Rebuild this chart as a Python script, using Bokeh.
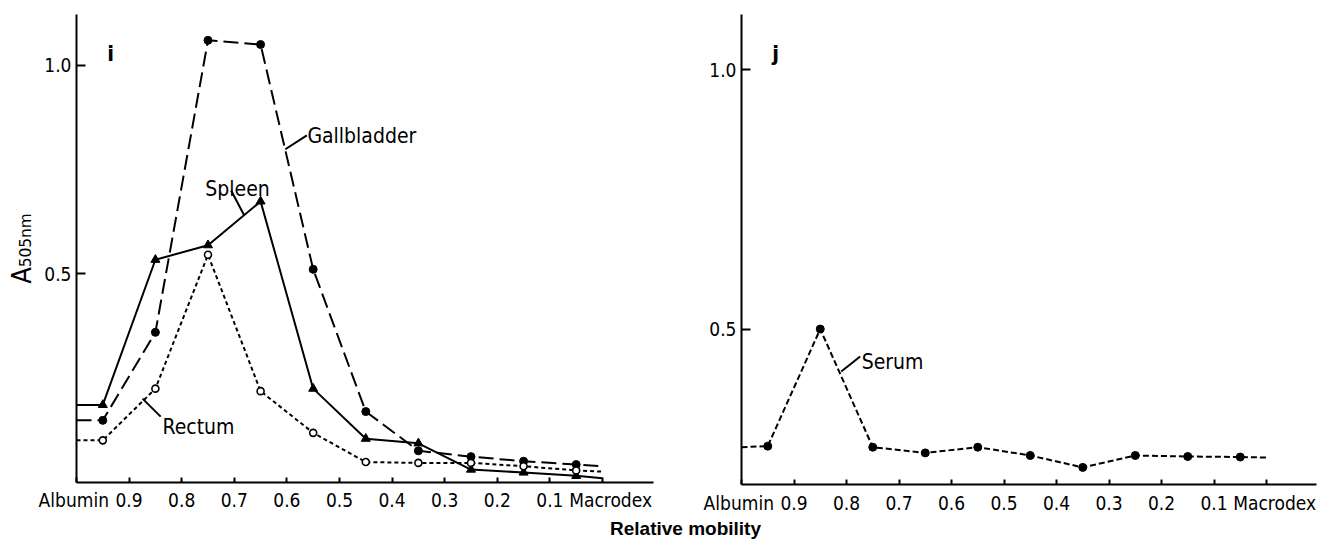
from bokeh.plotting import figure
from bokeh.layouts import row, column
from bokeh.models import Range1d, FixedTicker
from bokeh.core.properties import value
from bokeh.embed import file_html
from bokeh.resources import INLINE

# ---------------- data ----------------
tick_positions = [1.0, 0.9, 0.8, 0.7, 0.6, 0.5, 0.4, 0.3, 0.2, 0.1, 0.0]
tick_labels = ["Albumin\u00a0", "0.9", "0.8", "0.7", "0.6", "0.5", "0.4", "0.3", "0.2", "0.1",
               "\u00a0\u00a0\u00a0Macrodex"]
y_ticks = [0.5, 1.0]
y_tick_labels = ["0.5", "1.0"]

fraction_mobility = [0.95, 0.85, 0.75, 0.65, 0.55, 0.45, 0.35, 0.25, 0.15, 0.05]
line_start_x = 1.0   # traces start at the albumin (y) axis
line_end_x = 0.0     # and end at the Macrodex tick

gallbladder = [0.149, 0.360, 1.060, 1.050, 0.511, 0.170, 0.076, 0.062, 0.051, 0.043]
spleen      = [0.186, 0.534, 0.569, 0.674, 0.225, 0.105, 0.094, 0.031, 0.024, 0.016]
rectum      = [0.101, 0.225, 0.546, 0.219, 0.119, 0.049, 0.047, 0.047, 0.039, 0.029]
serum       = [0.274, 0.500, 0.272, 0.261, 0.272, 0.256, 0.233, 0.256, 0.254, 0.253]

# values of each trace at its start (albumin axis) and end (Macrodex tick)
gallbladder_ends = [0.149, 0.039]
spleen_ends      = [0.186, 0.010]
rectum_ends      = [0.101, 0.026]
serum_ends       = [0.272, 0.252]

FONT = "DejaVu Sans Condensed"
LABEL_SIZE = "19px"


def trace(vals, ends):
    xs = [line_start_x] + fraction_mobility + [line_end_x]
    ys = [ends[0]] + vals + [ends[1]]
    return xs, ys


def style(p, bottom_standoff):
    p.xgrid.visible = False
    p.ygrid.visible = False
    p.outline_line_color = None
    p.background_fill_color = "white"
    p.border_fill_color = "white"
    xa = p.xaxis[0]
    xa.ticker = FixedTicker(ticks=tick_positions)
    xa.major_label_overrides = dict(zip(tick_positions, tick_labels))
    xa.major_tick_in = 5
    xa.major_tick_out = 0
    xa.minor_tick_line_color = None
    xa.axis_line_width = 2
    xa.major_tick_line_width = 2
    xa.major_label_text_font = FONT
    xa.major_label_text_font_size = LABEL_SIZE
    xa.major_label_text_color = "black"
    xa.major_label_standoff = bottom_standoff
    ya = p.yaxis[0]
    ya.ticker = FixedTicker(ticks=y_ticks)
    ya.major_label_overrides = dict(zip(y_ticks, y_tick_labels))
    ya.major_tick_in = 9
    ya.major_tick_out = 0
    ya.minor_tick_line_color = None
    ya.axis_line_width = 2
    ya.major_tick_line_width = 2
    ya.major_label_text_font = FONT
    ya.major_label_text_font_size = LABEL_SIZE
    ya.major_label_text_color = "black"
    ya.major_label_standoff = 5


# ---------------- left panel (i) ----------------
p1 = figure(frame_width=577, frame_height=468,
            x_range=Range1d(1.0, -0.097), y_range=Range1d(0.0, 1.122),
            output_backend="svg", toolbar_location=None,
            min_border_left=76, min_border_right=8, min_border_top=14, min_border_bottom=31)
style(p1, 6)
ya1 = p1.yaxis[0]
ya1.axis_label = "A\u2085\u2080\u2085\u2099\u2098"
ya1.axis_label_text_font = FONT
ya1.axis_label_text_font_style = "normal"
ya1.axis_label_text_font_size = "27px"
ya1.axis_label_text_color = "black"
ya1.axis_label_standoff = 4

gx, gy = trace(gallbladder, gallbladder_ends)
p1.line(gx, gy, line_color="black", line_width=2, line_dash="15 6")
p1.scatter(fraction_mobility, gallbladder, marker="circle", size=8,
           fill_color="black", line_color="black")

sx, sy = trace(spleen, spleen_ends)
p1.line(sx, sy, line_color="black", line_width=2)
p1.scatter(fraction_mobility, spleen, marker="triangle", size=9,
           fill_color="black", line_color="black")

rx, ry = trace(rectum, rectum_ends)
p1.line(rx, ry, line_color="black", line_width=2, line_dash="4 3")
p1.scatter(fraction_mobility, rectum, marker="circle", size=7,
           fill_color="white", line_color="black", line_width=1.6)

# series labels with leader lines
p1.text(x=[0.561, 0.755, 0.8365], y=[0.830, 0.703, 0.134],
        text=["Gallbladder", "Spleen", "Rectum"],
        text_font=value(FONT), text_font_size="21px",
        text_align="left", text_baseline="alphabetic", text_color="black")
p1.segment(x0=[0.562, 0.706, 0.840], y0=[0.832, 0.700, 0.158],
           x1=[0.603, 0.681, 0.8745], y1=[0.799, 0.640, 0.201],
           line_color="black", line_width=2)
p1.text(x=[0.935], y=[1.029], text=["i"], text_font=value(FONT),
        text_font_size="22px", text_font_style="bold",
        text_align="center", text_baseline="alphabetic")

# ---------------- right panel (j) ----------------
p2 = figure(frame_width=575, frame_height=470,
            x_range=Range1d(1.0, -0.0952), y_range=Range1d(0.2, 1.107),
            output_backend="svg", toolbar_location=None,
            min_border_left=80, min_border_right=3, min_border_top=14, min_border_bottom=29)
style(p2, 7)

vx, vy = trace(serum, serum_ends)
p2.line(vx, vy, line_color="black", line_width=2, line_dash="6 3")
p2.scatter(fraction_mobility, serum, marker="circle", size=8,
           fill_color="black", line_color="black")
p2.text(x=[0.771], y=[0.437], text=["Serum"], text_font=value(FONT),
        text_font_size="21px", text_align="left", text_baseline="alphabetic")
p2.segment(x0=[0.774], y0=[0.447], x1=[0.810], y1=[0.418],
           line_color="black", line_width=2)
p2.text(x=[0.935], y=[1.031], text=["j"], text_font=value(FONT),
        text_font_size="22px", text_font_style="bold",
        text_align="center", text_baseline="alphabetic")

# ---------------- shared x-axis title ----------------
p3 = figure(width=1319, height=26, x_range=Range1d(0, 1319), y_range=Range1d(0, 26),
            output_backend="svg", toolbar_location=None,
            x_axis_location=None, y_axis_location=None, min_border=0)
p3.xgrid.visible = False
p3.ygrid.visible = False
p3.outline_line_color = None
p3.text(x=[685], y=[14], text=["Relative mobility"], text_font=value("Liberation Sans"),
        text_font_style="bold", text_font_size="19px",
        text_align="center", text_baseline="middle", text_color="black")

layout = column(row(p1, p2), p3)
open("out.html", "w").write(file_html(layout, INLINE))
